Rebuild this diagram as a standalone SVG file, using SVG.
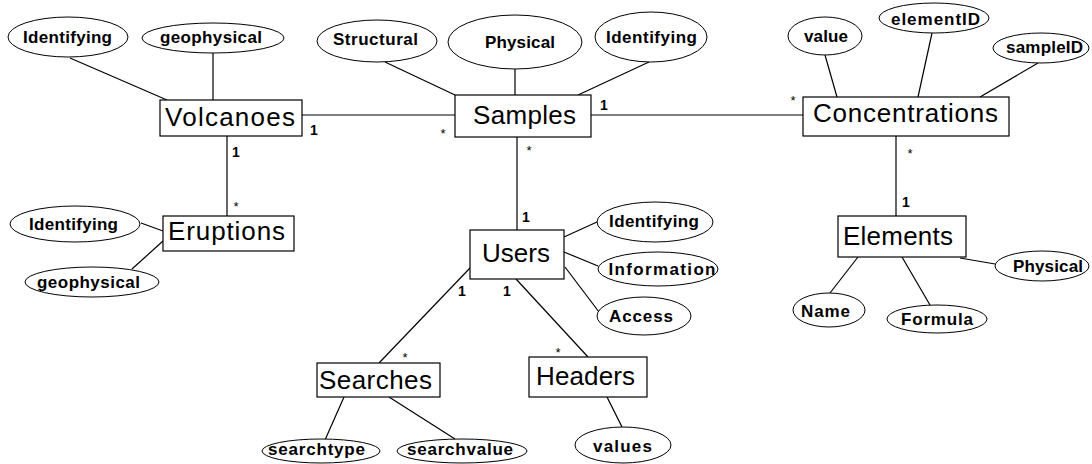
<svg xmlns="http://www.w3.org/2000/svg" width="1092" height="464" viewBox="0 0 1092 464">
<style>
.bg{fill:#fff}
.ent{fill:#fff;stroke:#000;stroke-width:1.2}
.att{fill:#fff;stroke:#000;stroke-width:1}
.et{font-family:"Liberation Sans",Arial,sans-serif;font-size:26px;fill:#000;text-anchor:middle}
.at{font-family:"Liberation Sans",Arial,sans-serif;font-size:17px;font-weight:bold;fill:#000;text-anchor:middle}
.one{font-family:"Liberation Sans",Arial,sans-serif;font-size:14px;font-weight:bold;fill:#000;text-anchor:middle}
.many{font-family:"Liberation Sans",Arial,sans-serif;font-size:13px;fill:#000;text-anchor:middle}
#connectors line{stroke:#000;stroke-width:1.2}
</style>
<rect class="bg" x="0" y="0" width="1092" height="464"/>
<g id="connectors">
<line x1="302" y1="115" x2="455" y2="115"/>
<line x1="591" y1="115" x2="803" y2="115"/>
<line x1="227" y1="136" x2="227" y2="216"/>
<line x1="517" y1="137" x2="517" y2="230"/>
<line x1="896" y1="136" x2="896" y2="216"/>
<line x1="470" y1="268" x2="379" y2="363"/>
<line x1="516" y1="279" x2="588" y2="357"/>
<line x1="70" y1="58" x2="167" y2="100"/>
<line x1="213" y1="53" x2="213" y2="100"/>
<line x1="385" y1="62" x2="455" y2="95"/>
<line x1="515" y1="69" x2="515" y2="95"/>
<line x1="649" y1="62" x2="578" y2="95"/>
<line x1="825" y1="55" x2="837" y2="97"/>
<line x1="932" y1="33" x2="918" y2="97"/>
<line x1="1038" y1="63" x2="980" y2="97"/>
<line x1="141" y1="223" x2="163" y2="231"/>
<line x1="132" y1="269" x2="163" y2="241"/>
<line x1="564" y1="237" x2="597" y2="222"/>
<line x1="564" y1="252" x2="598" y2="266"/>
<line x1="565" y1="267" x2="599" y2="312"/>
<line x1="830" y1="293" x2="858" y2="257"/>
<line x1="930" y1="305" x2="902" y2="257"/>
<line x1="960" y1="258" x2="995" y2="264"/>
<line x1="325" y1="440" x2="344" y2="397"/>
<line x1="455" y1="439" x2="389" y2="397"/>
<line x1="622" y1="427" x2="607" y2="397"/>
<text class="one" x="314" y="135">1</text>
<text class="many" x="443" y="138">*</text>
<text class="one" x="236" y="157">1</text>
<text class="many" x="236" y="211">*</text>
<text class="many" x="529" y="155">*</text>
<text class="one" x="526" y="222">1</text>
<text class="one" x="604" y="110">1</text>
<text class="many" x="793" y="105">*</text>
<text class="many" x="910" y="158">*</text>
<text class="one" x="906" y="207">1</text>
<text class="one" x="462" y="296">1</text>
<text class="one" x="507" y="296">1</text>
<text class="many" x="405" y="362">*</text>
<text class="many" x="558" y="357">*</text>
</g>
<g id="volcanoes">
<rect class="ent" x="160" y="100" width="142" height="36"/>
<text class="et" x="230" y="126" textLength="130" lengthAdjust="spacing">Volcanoes</text>
</g>
<g id="volcanoes-identifying">
<ellipse class="att" cx="68" cy="37" rx="60" ry="20"/>
<text class="at" x="67.5" y="43" textLength="89" lengthAdjust="spacing">Identifying</text>
</g>
<g id="volcanoes-geophysical">
<ellipse class="att" cx="213" cy="38" rx="71" ry="15"/>
<text class="at" x="211" y="43" textLength="102" lengthAdjust="spacing">geophysical</text>
</g>
<g id="samples">
<rect class="ent" x="455" y="95" width="136" height="42"/>
<text class="et" x="524.5" y="124" textLength="103" lengthAdjust="spacing">Samples</text>
</g>
<g id="samples-structural">
<ellipse class="att" cx="377" cy="41" rx="60" ry="21"/>
<text class="at" x="375.5" y="45" textLength="85" lengthAdjust="spacing">Structural</text>
</g>
<g id="samples-physical">
<ellipse class="att" cx="515" cy="42" rx="67" ry="27"/>
<text class="at" x="520" y="48" textLength="70" lengthAdjust="spacing">Physical</text>
</g>
<g id="samples-identifying">
<ellipse class="att" cx="651" cy="37" rx="56" ry="25"/>
<text class="at" x="651.5" y="43" textLength="91" lengthAdjust="spacing">Identifying</text>
</g>
<g id="concentrations">
<rect class="ent" x="803" y="97" width="206" height="39"/>
<text class="et" x="905.5" y="122" textLength="185" lengthAdjust="spacing">Concentrations</text>
</g>
<g id="concentrations-value">
<ellipse class="att" cx="825" cy="36" rx="37" ry="19"/>
<text class="at" x="826" y="42" textLength="44" lengthAdjust="spacing">value</text>
</g>
<g id="concentrations-elementid">
<ellipse class="att" cx="934" cy="18" rx="55" ry="15"/>
<text class="at" x="935.5" y="25" textLength="89" lengthAdjust="spacing">elementID</text>
</g>
<g id="concentrations-sampleid">
<ellipse class="att" cx="1041" cy="48" rx="48" ry="15"/>
<text class="at" x="1044.5" y="53" textLength="77" lengthAdjust="spacing">sampleID</text>
</g>
<g id="eruptions">
<rect class="ent" x="163" y="216" width="131" height="35"/>
<text class="et" x="226.5" y="240" textLength="117" lengthAdjust="spacing">Eruptions</text>
</g>
<g id="eruptions-identifying">
<ellipse class="att" cx="75" cy="224" rx="65" ry="18"/>
<text class="at" x="73.5" y="230" textLength="89" lengthAdjust="spacing">Identifying</text>
</g>
<g id="eruptions-geophysical">
<ellipse class="att" cx="92" cy="282" rx="67" ry="15"/>
<text class="at" x="88.5" y="288" textLength="103" lengthAdjust="spacing">geophysical</text>
</g>
<g id="users">
<rect class="ent" x="470" y="230" width="94" height="49"/>
<text class="et" x="516" y="262" textLength="68" lengthAdjust="spacing">Users</text>
</g>
<g id="users-identifying">
<ellipse class="att" cx="655" cy="222" rx="58" ry="20"/>
<text class="at" x="654" y="227" textLength="90" lengthAdjust="spacing">Identifying</text>
</g>
<g id="users-information">
<ellipse class="att" cx="658" cy="269" rx="60" ry="17"/>
<text class="at" x="662" y="275" textLength="107" lengthAdjust="spacing">Information</text>
</g>
<g id="users-access">
<ellipse class="att" cx="644" cy="316" rx="47" ry="19"/>
<text class="at" x="641" y="322" textLength="64" lengthAdjust="spacing">Access</text>
</g>
<g id="elements">
<rect class="ent" x="838" y="216" width="128" height="41"/>
<text class="et" x="898" y="245" textLength="110" lengthAdjust="spacing">Elements</text>
</g>
<g id="elements-name">
<ellipse class="att" cx="829" cy="310" rx="36" ry="17"/>
<text class="at" x="825.5" y="317" textLength="49" lengthAdjust="spacing">Name</text>
</g>
<g id="elements-formula">
<ellipse class="att" cx="937" cy="319" rx="50" ry="14"/>
<text class="at" x="937" y="325" textLength="72" lengthAdjust="spacing">Formula</text>
</g>
<g id="elements-physical">
<ellipse class="att" cx="1042" cy="266" rx="47" ry="15"/>
<text class="at" x="1048" y="272" textLength="70" lengthAdjust="spacing">Physical</text>
</g>
<g id="searches">
<rect class="ent" x="317" y="363" width="123" height="34"/>
<text class="et" x="375.5" y="389" textLength="113" lengthAdjust="spacing">Searches</text>
</g>
<g id="searches-searchtype">
<ellipse class="att" cx="321" cy="451" rx="59" ry="12"/>
<text class="at" x="316.5" y="455" textLength="97" lengthAdjust="spacing">searchtype</text>
</g>
<g id="searches-searchvalue">
<ellipse class="att" cx="462" cy="451" rx="65" ry="12"/>
<text class="at" x="460" y="455" textLength="106" lengthAdjust="spacing">searchvalue</text>
</g>
<g id="headers">
<rect class="ent" x="529" y="357" width="118" height="40"/>
<text class="et" x="585.5" y="385" textLength="99" lengthAdjust="spacing">Headers</text>
</g>
<g id="headers-values">
<ellipse class="att" cx="623" cy="445" rx="48" ry="18"/>
<text class="at" x="622.5" y="452" textLength="59" lengthAdjust="spacing">values</text>
</g>
</svg>
